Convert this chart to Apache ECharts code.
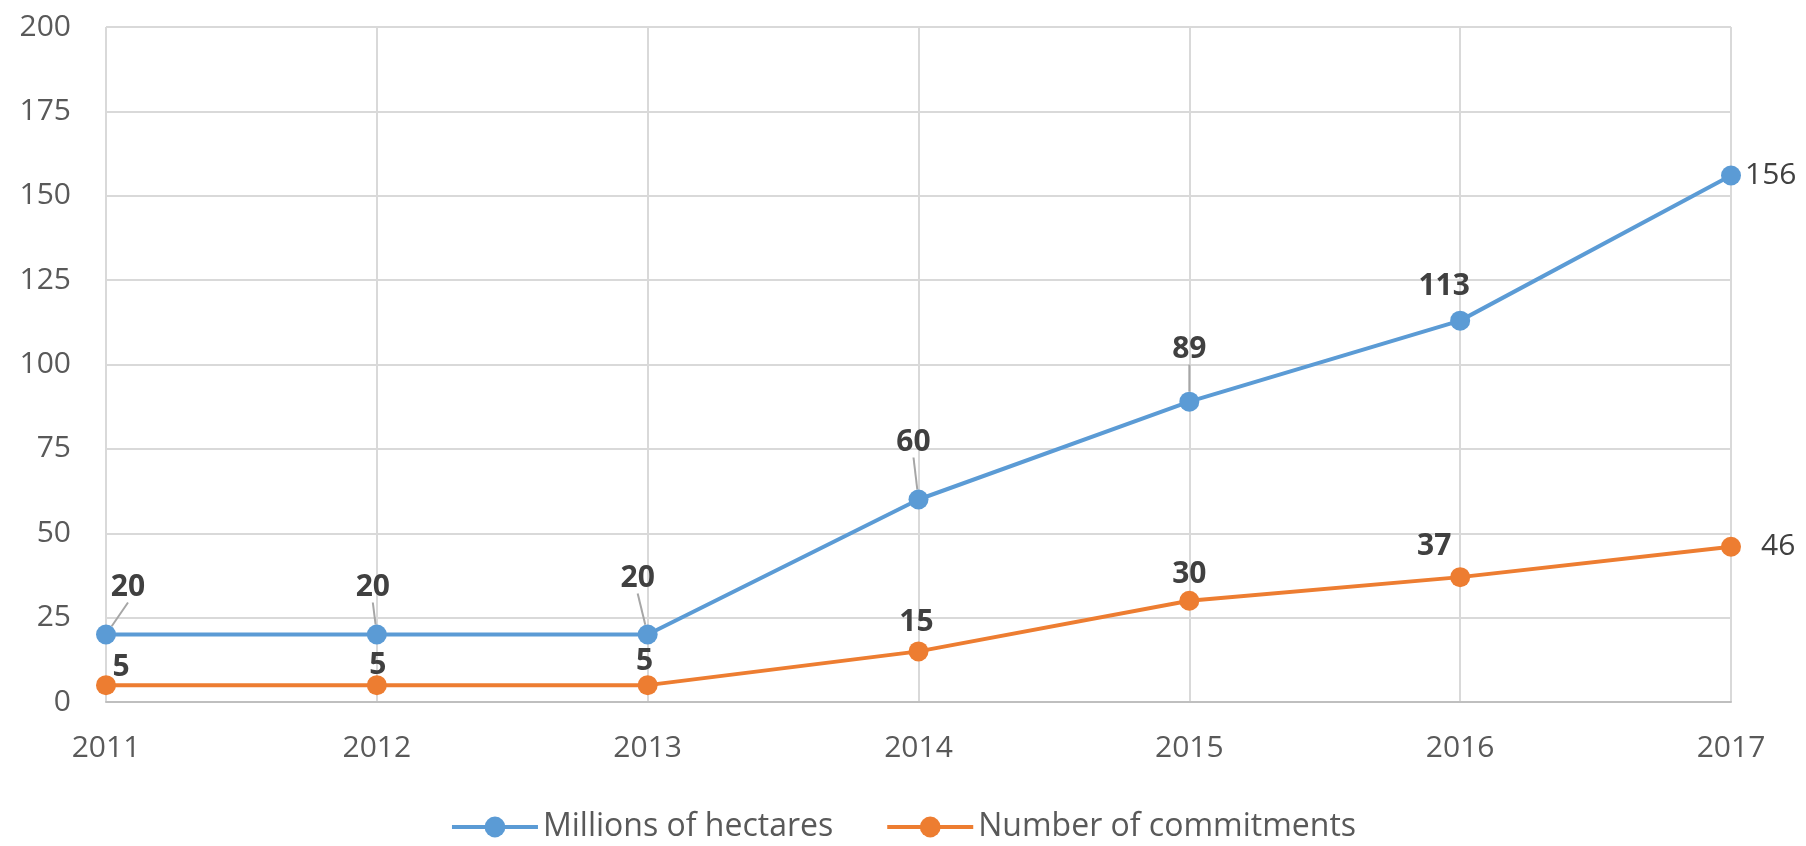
<!DOCTYPE html>
<html>
<head>
<meta charset="utf-8">
<script src="https://cdn.jsdelivr.net/npm/echarts@6/dist/echarts.min.js"></script>
<style>
  html, body { margin: 0; padding: 0; background: #fff; }
  #chart { width: 1806px; height: 846px; }
</style>
</head>
<body>
<div id="chart"></div>
<script>
// Years on the category axis
const years = ['2011', '2012', '2013', '2014', '2015', '2016', '2017'];
// Area covered, millions of hectares
const hectares = [20, 20, 20, 60, 89, 113, 156];
// Number of commitments made
const commitments = [5, 5, 5, 15, 30, 37, 46];
// Value axis ticks
const yTicks = [0, 25, 50, 75, 100, 125, 150, 175, 200];

// Label nudges (px) so labels clear the lines, as [dx, dy]
const hectareLabelShift = [[22, -17], [-4, -17], [-10, -26], [-5, -27], [0, -22], [-16, -4], [0, 0]];
const commitLabelShift = [[15, 12], [1, 10], [-3, 6], [-2, 1], [0, 4], [-26, -1], [0, 0]];
// Labels drawn without a guide line back to their point
const noGuide = [5];

const FONT = '"Open Sans", "Noto Sans", sans-serif';
const BLUE = '#5B9BD5';
const ORANGE = '#ED7D31';

const chart = echarts.init(document.getElementById('chart'), null, { renderer: 'canvas' });

function buildData(values, lastDist, guides) {
  return values.map((v, i) => {
    const item = { value: v };
    if (i === values.length - 1) {
      item.label = { position: 'right', distance: lastDist, fontWeight: 'normal', color: '#404040' };
      item.labelLine = { show: false };
    } else if (guides && noGuide.indexOf(i) >= 0) {
      item.labelLine = { show: false };
    }
    return item;
  });
}

chart.setOption({
  animation: false,
  grid: { left: 106, right: 75, top: 27, bottom: 144, containLabel: false },
  legend: {
    bottom: -2,
    left: 'center',
    itemWidth: 86,
    itemHeight: 26,
    itemGap: 52,
    lineStyle: { width: 4 },
    textStyle: { fontFamily: FONT, fontSize: 32, color: '#595959' },
    data: ['Millions of hectares', 'Number of commitments']
  },
  xAxis: {
    type: 'category',
    data: years,
    boundaryGap: false,
    axisLine: { lineStyle: { color: '#bfbfbf', width: 2 } },
    axisTick: { show: false },
    axisLabel: { fontFamily: FONT, fontSize: 30, color: '#595959', margin: 31 },
    splitLine: { show: true, lineStyle: { color: '#d9d9d9', width: 2 } }
  },
  yAxis: {
    type: 'value',
    min: yTicks[0],
    max: yTicks[yTicks.length - 1],
    interval: yTicks[1] - yTicks[0],
    axisLine: { show: false },
    axisTick: { show: false },
    axisLabel: { fontFamily: FONT, fontSize: 30, color: '#595959', margin: 35 },
    splitLine: { lineStyle: { color: '#d9d9d9', width: 2 } }
  },
  series: [
    {
      name: 'Millions of hectares',
      type: 'line',
      data: buildData(hectares, 4, true),
      symbol: 'circle',
      symbolSize: 20,
      color: BLUE,
      lineStyle: { width: 4, color: BLUE },
      itemStyle: { color: BLUE },
      label: {
        show: true,
        position: 'top',
        fontFamily: FONT,
        fontSize: 30,
        fontWeight: 'bold',
        color: '#404040'
      },
      labelLine: { show: true, lineStyle: { color: '#a6a6a6', width: 2 } },
      labelLayout: function (p) {
        const s = hectareLabelShift[p.dataIndex];
        return { dx: s[0], dy: s[1] };
      },
      z: 3
    },
    {
      name: 'Number of commitments',
      type: 'line',
      data: buildData(commitments, 20, false),
      symbol: 'circle',
      symbolSize: 20,
      color: ORANGE,
      lineStyle: { width: 4, color: ORANGE },
      itemStyle: { color: ORANGE },
      label: {
        show: true,
        position: 'top',
        fontFamily: FONT,
        fontSize: 30,
        fontWeight: 'bold',
        color: '#404040'
      },
      labelLayout: function (p) {
        const s = commitLabelShift[p.dataIndex];
        return { dx: s[0], dy: s[1] };
      },
      z: 2
    }
  ]
});
</script>
</body>
</html>
